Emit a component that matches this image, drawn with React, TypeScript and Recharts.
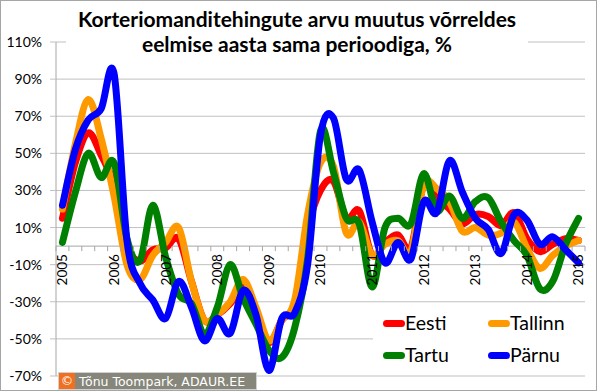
import React from 'react';
import {
  LineChart,
  Line,
  XAxis,
  YAxis,
  CartesianGrid,
  ReferenceLine,
  ReferenceDot,
  Legend,
} from 'recharts';

// ---- data -------------------------------------------------------------
const years = ['2005', '2006', '2007', '2008', '2009', '2010', '2011', '2012', '2013', '2014', '2015'];
const quarters = ['I', 'II', 'III', 'IV'];
const periods = years.flatMap((y) => quarters.map((q) => `${y} ${q}`)).slice(0, 41);

const eesti = [15, 45, 61, 49, 33, 0, -8, -2, -1, 4, -19, -40, -37, -31, -22, -35, -52, -40, -31, 9, 30, 35, 15, 19, -5, 2, 6, -1, 33, 26, 20, 12, 17, 16, 11, 18, 4, -3, 1, 4, 3];
const tallinn = [20, 55, 79, 58, 27, -10, -18, -5, 2, 10, -19, -40, -37, -30, -18, -33, -51, -40, -29, 17, 45, 43, 7, 13, -5, 1, 3, -3, 33, 31, 24, 8, 10, 6, 7, 13, -1, -12, -5, 0, 3];
const tartu = [2, 29, 50, 37, 45, 4, -8, 22, -6, -26, -31, -47, -33, -10, -28, -42, -56, -60, -44, -7, 62, 40, 15, 12, -22, 10, 15, 12, 39, 19, 27, 15, 24, 26, 13, 3, -5, -23, -19, 1, 15];
const parnu = [22, 52, 68, 74, 93, 3, -20, -29, -39, -19, -33, -51, -39, -47, -24, -37, -67, -39, -36, -10, 60, 69, 36, 41, 13, -9, 2, -7, 24, 18, 46, 29, 15, 9, -4, 17, 14, 1, 5, -2, -9];

const yTicks = [-70, -50, -30, -10, 10, 30, 50, 70, 90, 110];

const title = ['Korteriomanditehingute arvu muutus võrreldes', 'eelmise aasta sama perioodiga, %'];
const copyright = 'Tõnu Toompark, ADAUR.EE';

const series = [
  { key: 'Eesti', values: eesti, color: '#ff0000' },
  { key: 'Tallinn', values: tallinn, color: '#ff9900' },
  { key: 'Tartu', values: tartu, color: '#008000' },
  { key: 'Pärnu', values: parnu, color: '#0000ff' },
];
const seriesOrder = series.map((s) => s.key);

const data = periods.map((p, i) => {
  const row: Record<string, any> = { i, period: p };
  series.forEach((s) => {
    row[s.key] = s.values[i];
  });
  return row;
});

const yearMarks = years.map((y, k) => ({ i: k * 4, label: y }));
const boundaries = Array.from({ length: periods.length + 1 }, (_, k) => k - 0.5);

// ---- Excel-like smoothing curve --------------------------------------
function excelSmooth(context: any) {
  let pts: number[][] = [];
  return {
    areaStart() {},
    areaEnd() {},
    lineStart() {
      pts = [];
    },
    point(x: number, y: number) {
      pts.push([+x, +y]);
    },
    lineEnd() {
      const n = pts.length;
      if (!n) return;
      context.moveTo(pts[0][0], pts[0][1]);
      for (let k = 0; k < n - 1; k++) {
        const p0 = pts[k - 1] || pts[k];
        const p1 = pts[k];
        const p2 = pts[k + 1];
        const p3 = pts[k + 2] || p2;
        context.bezierCurveTo(
          p1[0] + (p2[0] - p0[0]) / 6,
          p1[1] + (p2[1] - p0[1]) / 6,
          p2[0] - (p3[0] - p1[0]) / 6,
          p2[1] - (p3[1] - p1[1]) / 6,
          p2[0],
          p2[1]
        );
      }
    },
  };
}

const FONT = 'Lato, "Open Sans", sans-serif';

const TickMark = (props: any) => {
  const { cx, cy } = props;
  if (cx == null || cy == null) return null;
  return <line x1={cx} x2={cx} y1={cy} y2={cy + 5} stroke="#a6a6a6" strokeWidth={1} />;
};

const YearLabel = (label: string) => (props: any) => {
  const { cx, cy } = props;
  if (cx == null || cy == null) return null;
  return (
    <text
      x={cx}
      y={cy + 8}
      transform={`rotate(-90 ${cx} ${cy + 8})`}
      textAnchor="end"
      dy="0.36em"
      fontSize={13.5}
      fontFamily={FONT}
      fill="#000"
    >
      {label}
    </text>
  );
};

const renderLegend = (props: any) => {
  const items = [...(props.payload || [])].sort(
    (a: any, b: any) => seriesOrder.indexOf(a.value) - seriesOrder.indexOf(b.value)
  );
  return (
    <div
      style={{
        display: 'grid',
        gridTemplateColumns: '105px 105px',
        paddingLeft: 10,
        paddingTop: 2,
        fontFamily: FONT,
      }}
    >
      {items.map((it: any) => (
        <div key={it.value} style={{ display: 'flex', alignItems: 'center', height: 32 }}>
          <span
            style={{
              display: 'inline-block',
              width: 22,
              height: 7,
              borderRadius: 4,
              background: it.color,
            }}
          />
          <span style={{ fontSize: 19.5, color: '#000', lineHeight: '20px' }}>{it.value}</span>
        </div>
      ))}
    </div>
  );
};

export default function App() {
  return (
    <div
      style={{
        position: 'absolute',
        left: 0,
        top: 0,
        width: 600,
        height: 392,
        background: '#fff',
        fontFamily: FONT,
      }}
    >
      <LineChart width={600} height={392} data={data} margin={{ top: 42, right: 15, bottom: 16, left: 8 }}>
        <CartesianGrid horizontal vertical={false} stroke="#c0c0c0" strokeWidth={1} />
        <XAxis dataKey="i" type="number" domain={[-0.5, 40.5]} hide height={0} allowDataOverflow />
        <YAxis
          type="number"
          domain={[-70, 110]}
          ticks={yTicks}
          interval={0}
          width={48}
          tickFormatter={(v: number) => `${v}%`}
          tick={{ fontSize: 14, fill: '#000', fontFamily: FONT }}
          tickMargin={8}
          tickSize={6}
          axisLine={{ stroke: '#a6a6a6' }}
          tickLine={{ stroke: '#c0c0c0' }}
        />
        <ReferenceLine y={0} stroke="#a6a6a6" strokeWidth={1} />
        {series.map((s) => (
          <Line
            key={s.key}
            dataKey={s.key}
            name={s.key}
            stroke={s.color}
            strokeWidth={7}
            strokeLinecap="round"
            strokeLinejoin="round"
            type={excelSmooth as any}
            dot={false}
            activeDot={false}
            isAnimationActive={false}
          />
        ))}
        {boundaries.map((b) => (
          <ReferenceDot key={`t${b}`} x={b} y={0} r={1} shape={TickMark} ifOverflow="visible" />
        ))}
        {yearMarks.map((m) => (
          <ReferenceDot key={`y${m.label}`} x={m.i} y={0} r={1} shape={YearLabel(m.label)} ifOverflow="visible" />
        ))}
        <Legend
          layout="vertical"
          align="center"
          verticalAlign="middle"
          itemSorter={null as any}
          content={renderLegend}
          wrapperStyle={{
            position: 'absolute',
            left: 373,
            top: 305,
            width: 212,
            height: 70,
            background: '#fff',
            margin: 0,
          }}
        />
      </LineChart>

      <div
        style={{
          position: 'absolute',
          left: 66,
          top: 6,
          width: 462,
          height: 56,
          background: '#fff',
          textAlign: 'center',
          fontWeight: 700,
          fontSize: 21,
          lineHeight: '25px',
          color: '#000',
          fontFamily: FONT,
        }}
      >
        <div>{title[0]}</div>
        <div>{title[1]}</div>
      </div>

      <div
        style={{
          position: 'absolute',
          left: 58,
          top: 372,
          width: 199,
          height: 18,
          background: '#86867a',
          border: '1px solid #d0d0d0',
          boxSizing: 'border-box',
          display: 'flex',
          alignItems: 'center',
          color: '#fff',
          fontFamily: '"DejaVu Sans", sans-serif',
          fontSize: 12.5,
          whiteSpace: 'nowrap',
          overflow: 'hidden',
        }}
      >
        <span
          style={{
            display: 'inline-block',
            background: '#f07020',
            width: 16,
            height: 16,
            textAlign: 'center',
            lineHeight: '16px',
            marginRight: 4,
          }}
        >
          ©
        </span>
        <span>{copyright}</span>
      </div>

      <div
        style={{
          position: 'absolute',
          left: 0,
          top: 0,
          width: 597,
          height: 391,
          border: '1px solid #a6a6a6',
          boxSizing: 'border-box',
          pointerEvents: 'none',
        }}
      />
    </div>
  );
}
